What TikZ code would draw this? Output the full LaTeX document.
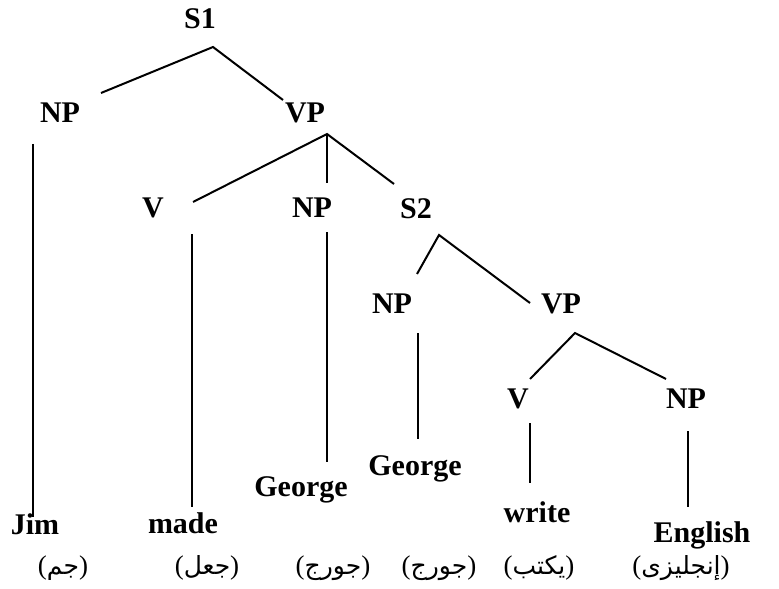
\documentclass[tikz,border=0pt]{standalone}
\usepackage{fontspec}
\setmainfont{Liberation Serif}
\newfontfamily\arabicfont[Script=Arabic]{DejaVu Sans}
\TeXXeTstate=1

\tikzset{
  cat/.style={font=\fontsize{15}{18}\selectfont\bfseries, inner sep=0pt, anchor=base},
  gloss/.style={font=\fontsize{13.5}{15}\selectfont, inner sep=0pt, anchor=base},
  branch/.style={line width=1pt}
}
% Arabic gloss in parentheses; the brackets stay in the Latin font
\newcommand{\ar}[1]{({\arabicfont\fontsize{12.5}{15}\selectfont\beginR #1\endR})}

\begin{document}
\begin{tikzpicture}[x=0.5pt,y=-0.5pt]
  \useasboundingbox (0,0) rectangle (779,588);

  % category labels
  \node[cat] (s1)  at (200,29)  {S1};
  \node[cat] (np1) at (60,123)  {NP};
  \node[cat] (vp1) at (305,123) {VP};
  \node[cat] (v1)  at (153,217) {V};
  \node[cat] (np2) at (312,217) {NP};
  \node[cat] (s2)  at (416,218) {S2};
  \node[cat] (np3) at (392,313) {NP};
  \node[cat] (vp2) at (561,313) {VP};
  \node[cat] (v2)  at (518,408) {V};
  \node[cat] (np4) at (686,408) {NP};

  % English words
  \node[cat] (jim)     at (35,534)  {Jim};
  \node[cat] (made)    at (183,533) {made};
  \node[cat] (george1) at (301,496) {George};
  \node[cat] (george2) at (415,475) {George};
  \node[cat] (write)   at (537,522) {write};
  \node[cat] (english) at (702,542) {English};

  % Arabic glosses
  \node[gloss] (g1) at (63,574)  {\ar{جم}};
  \node[gloss] (g2) at (207,574) {\ar{جعل}};
  \node[gloss] (g3) at (333,574) {\ar{جورج}};
  \node[gloss] (g4) at (439,574) {\ar{جورج}};
  \node[gloss] (g5) at (539,574) {\ar{يكتب}};
  \node[gloss] (g6) at (681,574) {\ar{إنجليزى}};

  % branch end points
  \coordinate (s1-a)  at (213,47);
  \coordinate (np1-t) at (101,93);
  \coordinate (vp1-t) at (283,100);
  \coordinate (vp1-a) at (327,134);
  \coordinate (v1-t)  at (193,202);
  \coordinate (np2-t) at (327,183);
  \coordinate (s2-t)  at (394,184);
  \coordinate (s2-a)  at (439,235);
  \coordinate (np3-t) at (417,274);
  \coordinate (vp2-t) at (530,303);
  \coordinate (vp2-a) at (575,333);
  \coordinate (v2-t)  at (530,379);
  \coordinate (np4-t) at (666,379);

  \coordinate (np1-b) at (33,144);
  \coordinate (jim-t) at (33,517);
  \coordinate (v1-b)  at (192,234);
  \coordinate (made-t) at (192,507);
  \coordinate (np2-b) at (327,232);
  \coordinate (geo1-t) at (327,462);
  \coordinate (np3-b) at (418,333);
  \coordinate (geo2-t) at (418,439);
  \coordinate (v2-b)  at (530,423);
  \coordinate (write-t) at (530,483);
  \coordinate (np4-b) at (688,431);
  \coordinate (eng-t) at (688,507);

  % branches
  \draw[branch] (np1-t) -- (s1-a) -- (vp1-t);
  \draw[branch] (v1-t) -- (vp1-a) -- (s2-t);
  \draw[branch] (vp1-a) -- (np2-t);
  \draw[branch] (np3-t) -- (s2-a) -- (vp2-t);
  \draw[branch] (v2-t) -- (vp2-a) -- (np4-t);

  % lexical stems
  \draw[branch] (np1-b) -- (jim-t);
  \draw[branch] (v1-b) -- (made-t);
  \draw[branch] (np2-b) -- (geo1-t);
  \draw[branch] (np3-b) -- (geo2-t);
  \draw[branch] (v2-b) -- (write-t);
  \draw[branch] (np4-b) -- (eng-t);
\end{tikzpicture}
\end{document}
